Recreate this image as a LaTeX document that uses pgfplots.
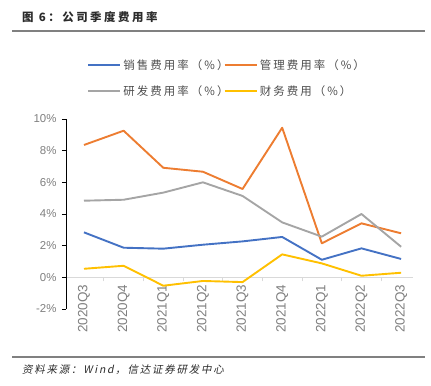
\documentclass[border=0pt]{standalone}
\usepackage{pgfplots}
\pgfplotsset{compat=1.18}
\usepackage{fontspec}
\setmainfont{Liberation Sans}
\newfontfamily\cjk{Noto Sans CJK SC}
\newfontfamily\cjktitle[LetterSpace=22]{Noto Sans CJK SC}
\newfontfamily\cjkleg[LetterSpace=18]{Noto Sans CJK SC}
\newfontfamily\cjkit[FakeSlant=0.2,LetterSpace=17]{Noto Sans CJK SC}
\definecolor{cblue}{HTML}{4472C4}
\definecolor{corange}{HTML}{ED7D31}
\definecolor{cgray}{HTML}{A5A5A5}
\definecolor{cyellow}{HTML}{FFC000}
\definecolor{ticktext}{HTML}{7F7F7F}
\definecolor{titletext}{HTML}{2B2B2B}
\begin{document}
\begin{tikzpicture}[x=1bp,y=1bp]
\path[use as bounding box] (0,0) rectangle (431,386);
\node[anchor=west, inner sep=0pt, text=titletext, font=\cjktitle\bfseries\fontsize{11.5}{13}\selectfont] at (22,386-17) {图 6：公司季度费用率};
\draw[gray, line width=1.2bp] (12,386-31) -- (425,386-31);
\draw[gray, line width=1.2bp] (12,386-357) -- (425,386-357);
\node[anchor=west, inner sep=0pt, text=titletext, font=\cjkit\fontsize{10.5}{12}\selectfont] at (22,386-370) {资料来源：Wind，信达证券研发中心};
\begin{axis}[
  at={(66bp,77bp)}, anchor=south west,
  scale only axis, width=347bp, height=190bp,
  xmin=-0.454, xmax=8.3, ymin=-2, ymax=10,
  axis x line*=middle, axis y line*=left,
  axis line style={-},
  x axis line style={draw=black!15, line width=1bp},
  y axis line style={draw=black, line width=0.8bp},
  xtick={0,...,8},
  xticklabels={2020Q3,2020Q4,2021Q1,2021Q2,2021Q3,2021Q4,2022Q1,2022Q2,2022Q3},
  major x tick style={draw=none},
  minor xtick={0.5,1.5,...,7.5},
  minor x tick style={draw=black!15, line width=0.8bp},
  minor tick length=4bp,
  xtick align=outside,
  ytick={-2,0,2,4,6,8,10},
  yticklabels={-2\%,0\%,2\%,4\%,6\%,8\%,10\%},
  ytick align=outside,
  major tick length=4bp,
  y tick style={draw=black, line width=0.8bp},
  tick label style={text=ticktext},
  xticklabel style={rotate=90, anchor=east, font=\fontsize{13.5}{15}\selectfont},
  yticklabel style={xshift=-2bp, font=\fontsize{11.5}{13}\selectfont},
  legend columns=2,
  legend cell align=left,
  legend style={at={(axis description cs:0.0605,1.325)}, anchor=north west,
    draw=none, fill=none, inner sep=0pt,
    font=\cjkleg\fontsize{11.5}{13}\selectfont, text=black!70,
    row sep=11bp,
    /tikz/every even column/.append style={column sep=-7bp}},
  legend image code/.code={\draw[#1, line width=2.2bp] (0bp,0bp) -- (32bp,0bp);},
  every axis plot/.append style={line width=1.9bp, mark=none, line join=round},
]
\addplot[cblue] coordinates {(0,2.84)(1,1.87)(2,1.81)(3,2.06)(4,2.27)(5,2.55)(6,1.11)(7,1.83)(8,1.16)};
\addlegendentry{销售费用率（\%）}
\addplot[corange] coordinates {(0,8.36)(1,9.26)(2,6.92)(3,6.67)(4,5.58)(5,9.45)(6,2.15)(7,3.41)(8,2.78)};
\addlegendentry{管理费用率（\%）}
\addplot[cgray] coordinates {(0,4.84)(1,4.90)(2,5.35)(3,6.00)(4,5.14)(5,3.47)(6,2.57)(7,4.00)(8,1.93)};
\addlegendentry{研发费用率（\%）}
\addplot[cyellow] coordinates {(0,0.54)(1,0.73)(2,-0.53)(3,-0.23)(4,-0.30)(5,1.45)(6,0.88)(7,0.10)(8,0.29)};
\addlegendentry{财务费用（\%）}
\end{axis}
\end{tikzpicture}
\end{document}
